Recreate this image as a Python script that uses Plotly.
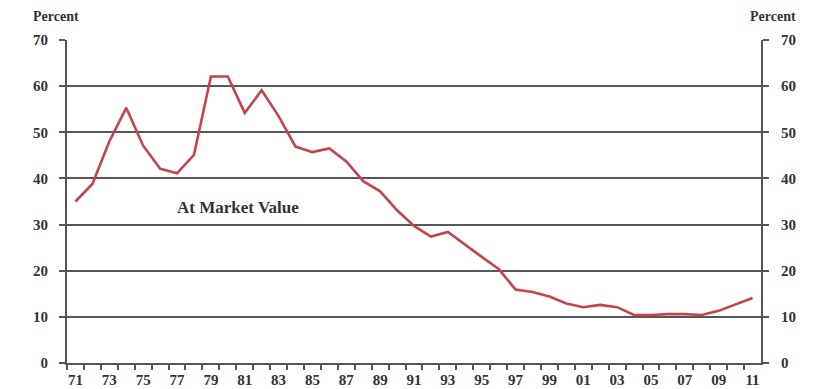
import plotly.graph_objects as go

years = list(range(1971, 2012))
market_value = [35.0, 38.8, 48.0, 55.3, 47.1, 42.1, 41.1, 45.1, 62.1, 62.1,
                54.2, 59.1, 53.5, 46.9, 45.7, 46.5, 43.7, 39.4, 37.2, 33.1,
                29.7, 27.4, 28.4, 25.6, 23.0, 20.4, 15.9, 15.4, 14.4, 12.9,
                12.1, 12.6, 12.1, 10.4, 10.4, 10.6, 10.6, 10.4, 11.3, 12.7,
                14.1]
tick_years = list(range(1971, 2012, 2))
tick_text = [f"{y % 100:02d}" for y in tick_years]
y_ticks = [0, 10, 20, 30, 40, 50, 60, 70]

# page body has an 8px default margin, so the figure is drawn 8px in from the corner
OFF = 8
W, H = 817 - OFF, 389 - OFF
L, R, T, B = 67 - OFF, 56, 40 - OFF, 26

FAM = "Liberation Serif, Times New Roman, serif"
TXT = "#333333"
axis_col = "#555555"
ytick_font = dict(family=FAM, size=15, color=TXT)
xtick_font = dict(family=FAM, size=15, color=TXT)

fig = go.Figure()
fig.add_trace(go.Scatter(x=years, y=market_value, mode="lines",
                         line=dict(color="#C4434D", width=2.6),
                         hoverinfo="skip", showlegend=False))
fig.add_trace(go.Scatter(x=years, y=market_value, mode="lines", yaxis="y2",
                         line=dict(color="rgba(0,0,0,0)", width=0),
                         hoverinfo="skip", showlegend=False))

fig.update_layout(
    width=W, height=H,
    margin=dict(l=L, r=R, t=T, b=B, pad=0),
    paper_bgcolor="white", plot_bgcolor="white",
    font=dict(family=FAM, size=14, color=TXT),
    xaxis=dict(range=[1970.5, 2011.5], tickvals=tick_years,
               ticktext=[f"<b>{t}</b>" for t in tick_text],
               ticks="", showgrid=False, zeroline=False, automargin=False,
               showline=True, linecolor=axis_col, linewidth=2,
               tickfont=xtick_font, ticklabelstandoff=2,
               minor=dict(tickvals=[y + 0.5 for y in range(1970, 2011)],
                          ticks="outside", ticklen=5, tickwidth=1.5,
                          tickcolor=axis_col, showgrid=False)),
    yaxis=dict(range=[0, 70], tickvals=y_ticks,
               ticktext=[f"<b>{v}</b>" for v in y_ticks],
               ticks="outside", ticklen=6, automargin=False,
               tickwidth=1.5, tickcolor=axis_col,
               showgrid=True, gridcolor="#575757", gridwidth=1.6,
               zeroline=False, showline=True, linecolor=axis_col, linewidth=2,
               tickfont=ytick_font, ticklabelstandoff=8),
    yaxis2=dict(range=[0, 70], tickvals=y_ticks,
                ticktext=[f"<b>{v}</b>" for v in y_ticks],
                overlaying="y", side="right", automargin=False,
                ticks="outside", ticklen=6, tickwidth=1.5, tickcolor=axis_col,
                showgrid=False, zeroline=False, showline=True,
                linecolor=axis_col, linewidth=2,
                tickfont=ytick_font, ticklabelstandoff=9),
)

pw = W - L - R
ph = H - T - B


def px_to_paper(px, py):
    # px, py are screen pixels; convert to figure paper coords
    fx, fy = px - OFF, py - OFF
    return (fx - L) / pw, (H - fy - B) / ph


for label, (px, py) in [("Percent", (56, 16)), ("Percent", (773, 16))]:
    xp, yp = px_to_paper(px, py)
    fig.add_annotation(text=f"<b>{label}</b>", x=xp, y=yp, xref="paper", yref="paper",
                       xanchor="center", yanchor="middle", showarrow=False,
                       font=dict(family=FAM, size=14, color=TXT))

fig.add_annotation(text="<b>At Market Value</b>", x=1980.6, y=33.8, xref="x", yref="y",
                   showarrow=False, font=dict(family=FAM, size=17, color=TXT))

fig.write_html("out.html")
